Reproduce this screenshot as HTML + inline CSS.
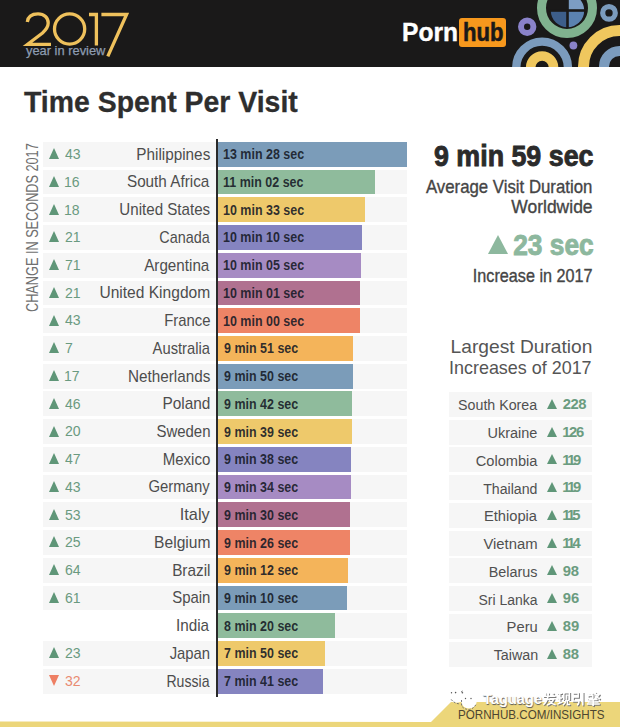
<!DOCTYPE html>
<html><head><meta charset="utf-8"><style>
*{margin:0;padding:0;box-sizing:border-box}
html,body{width:620px;height:727px;overflow:hidden;background:#fff}
body{position:relative;font-family:"Liberation Sans",sans-serif;color:#333}
.a{position:absolute;white-space:nowrap;line-height:1}
.rb{position:absolute;background:#f6f6f6}
.bar{position:absolute}
.tri{position:absolute;width:0;height:0;border-left:5.5px solid transparent;border-right:5.5px solid transparent;border-bottom:11px solid #5f9678}
.trd{position:absolute;width:0;height:0;border-left:5.5px solid transparent;border-right:5.5px solid transparent;border-top:11px solid #ee7f63}
</style></head><body>

<div class="a" style="left:0;top:0;width:620px;height:66.7px;background:#1a1919"></div>
<svg class="a" style="left:0;top:0" width="620" height="67" viewBox="0 0 620 67">
<g fill="none" stroke="#efc15c" stroke-width="3.3" stroke-linecap="butt">
<path d="M27.3 22 C28 16 32.5 13.9 38 13.9 C44.3 13.9 48.2 17.8 48.2 23 C48.2 27.2 46 29.8 42.5 33 L27.6 44.3 L51 44.3"/>
<circle cx="69.6" cy="29" r="15.1"/>
<path d="M89 14.5 L96.4 14.5 L96.4 45.5"/>
<path d="M101.4 14.5 L126.6 14.5 L107.8 56.4"/>
</g>
</svg>
<div class="a" style="left:25.80px;top:43.84px;font-size:13.30px;font-weight:400;color:#8d9cb0;transform:scaleX(0.9677);transform-origin:0 0;-webkit-text-stroke:0.25px #8d9cb0">year in review</div>
<div class="a" style="left:401.83px;top:19.71px;font-size:25.50px;font-weight:700;color:#fff;transform:scaleX(0.9636);transform-origin:0 0;-webkit-text-stroke:0.4px #fff">Porn</div>
<div class="a" style="left:459px;top:17.7px;width:47.3px;height:29.1px;background:#f7981d;border-radius:3px"></div>
<div class="a" style="left:462.68px;top:19.71px;font-size:25.50px;font-weight:700;color:#1a1919;transform:scaleX(0.8651);transform-origin:0 0;-webkit-text-stroke:0.6px #1a1919">hub</div>
<svg class="a" style="left:0;top:0" width="620" height="67" viewBox="0 0 620 67">
<circle cx="567" cy="8" r="25.5" fill="none" stroke="#80b28f" stroke-width="9"/>
<path d="M567.5 10.5 L550.8 10.5 A16.7 16.7 0 0 0 567.5 27.2 Z" fill="#3d5e8a"/>
<path d="M567.5 10.5 L584.2 10.5 A16.7 16.7 0 0 1 567.5 27.2 Z" fill="#5b82b0"/>
<path d="M567.5 10.5 L567.5 -6.2 A16.7 16.7 0 0 1 584.2 10.5 Z" fill="#7c9dc4"/>
<rect x="566.2" y="-8" width="2.6" height="36" fill="#1a1919"/>
<rect x="549" y="9.2" width="37" height="2.6" fill="#1a1919"/>
<circle cx="609" cy="12.9" r="6.3" fill="none" stroke="#7b9bbd" stroke-width="5.2"/>
<circle cx="527.2" cy="26.8" r="6.2" fill="none" stroke="#8a82c9" stroke-width="6"/>
<circle cx="573.4" cy="45.5" r="3.9" fill="#8a82c9"/>
<circle cx="542.1" cy="67.4" r="25.8" fill="none" stroke="#7b9bbd" stroke-width="8.4"/>
<circle cx="542.1" cy="67.4" r="11.4" fill="none" stroke="#efc75e" stroke-width="9.6"/>
<circle cx="619.5" cy="66.5" r="36" fill="none" stroke="#efc75e" stroke-width="11"/>
<circle cx="619.5" cy="66.5" r="15.5" fill="none" stroke="#7b9bbd" stroke-width="10"/>
</svg>
<div class="a" style="left:23.72px;top:87.78px;font-size:29.20px;font-weight:700;color:#2e2e2e;transform:scaleX(0.9736);transform-origin:0 0;-webkit-text-stroke:0.3px #2e2e2e">Time Spent Per Visit</div>
<div class="a" style="left:0;top:0;width:620px;height:727px;pointer-events:none">
<div class="a" style="left:37.6px;top:311.3px;transform-origin:0 0;transform:rotate(-90deg)"><div class="a" style="left:-0.64px;top:-13.21px;font-size:15.6px;color:#707070;transform-origin:0 0;transform:scaleX(0.8148)">CHANGE IN SECONDS 2017</div></div>
</div>
<div class="rb" style="left:43.3px;top:141.80px;width:363.50px;height:24.8px"></div>
<div class="bar" style="left:218px;top:141.80px;width:188.80px;height:24.8px;background:#7b9cb9"></div>
<div class="a" style="left:223.45px;top:147.16px;font-size:14.10px;font-weight:700;color:rgba(22,26,38,0.9);transform:scaleX(0.8850);transform-origin:0 0;">13 min 28 sec</div>
<div class="a" style="right:409.94px;top:145.59px;font-size:16.20px;font-weight:400;color:#4d4d4d;transform:scaleX(0.9456);transform-origin:100% 0;">Philippines</div>
<div class="tri" style="left:48.9px;top:148.10px"></div>
<div class="a" style="left:65.02px;top:146.02px;font-size:15.10px;font-weight:400;color:#6a9a80;transform:scaleX(0.9300);transform-origin:0 0;">43</div>
<div class="rb" style="left:43.3px;top:169.54px;width:363.50px;height:24.8px"></div>
<div class="bar" style="left:218px;top:169.54px;width:156.70px;height:24.8px;background:#8fbb9c"></div>
<div class="a" style="left:223.45px;top:174.90px;font-size:14.10px;font-weight:700;color:rgba(22,26,38,0.9);transform:scaleX(0.8850);transform-origin:0 0;">11 min 02 sec</div>
<div class="a" style="right:410.46px;top:173.33px;font-size:16.20px;font-weight:400;color:#4d4d4d;transform:scaleX(0.9434);transform-origin:100% 0;">South Africa</div>
<div class="tri" style="left:48.9px;top:175.84px"></div>
<div class="a" style="left:64.32px;top:173.76px;font-size:15.10px;font-weight:400;color:#6a9a80;transform:scaleX(0.9300);transform-origin:0 0;">16</div>
<div class="rb" style="left:43.3px;top:197.28px;width:363.50px;height:24.8px"></div>
<div class="bar" style="left:218px;top:197.28px;width:146.90px;height:24.8px;background:#eec96b"></div>
<div class="a" style="left:223.45px;top:202.64px;font-size:14.10px;font-weight:700;color:rgba(22,26,38,0.9);transform:scaleX(0.8850);transform-origin:0 0;">10 min 33 sec</div>
<div class="a" style="right:409.95px;top:201.07px;font-size:16.20px;font-weight:400;color:#4d4d4d;transform:scaleX(0.9348);transform-origin:100% 0;">United States</div>
<div class="tri" style="left:48.9px;top:203.58px"></div>
<div class="a" style="left:64.32px;top:201.50px;font-size:15.10px;font-weight:400;color:#6a9a80;transform:scaleX(0.9300);transform-origin:0 0;">18</div>
<div class="rb" style="left:43.3px;top:225.02px;width:363.50px;height:24.8px"></div>
<div class="bar" style="left:218px;top:225.02px;width:143.70px;height:24.8px;background:#8584c0"></div>
<div class="a" style="left:223.45px;top:230.38px;font-size:14.10px;font-weight:700;color:rgba(22,26,38,0.9);transform:scaleX(0.8850);transform-origin:0 0;">10 min 10 sec</div>
<div class="a" style="right:410.46px;top:228.81px;font-size:16.20px;font-weight:400;color:#4d4d4d;transform:scaleX(0.8893);transform-origin:100% 0;">Canada</div>
<div class="tri" style="left:48.9px;top:231.32px"></div>
<div class="a" style="left:64.60px;top:229.24px;font-size:15.10px;font-weight:400;color:#6a9a80;transform:scaleX(0.9300);transform-origin:0 0;">21</div>
<div class="rb" style="left:43.3px;top:252.76px;width:363.50px;height:24.8px"></div>
<div class="bar" style="left:218px;top:252.76px;width:143.10px;height:24.8px;background:#a68bc3"></div>
<div class="a" style="left:223.45px;top:258.12px;font-size:14.10px;font-weight:700;color:rgba(22,26,38,0.9);transform:scaleX(0.8850);transform-origin:0 0;">10 min 05 sec</div>
<div class="a" style="right:410.46px;top:256.55px;font-size:16.20px;font-weight:400;color:#4d4d4d;transform:scaleX(0.9393);transform-origin:100% 0;">Argentina</div>
<div class="tri" style="left:48.9px;top:259.06px"></div>
<div class="a" style="left:64.60px;top:256.98px;font-size:15.10px;font-weight:400;color:#6a9a80;transform:scaleX(0.9300);transform-origin:0 0;">71</div>
<div class="rb" style="left:43.3px;top:280.50px;width:363.50px;height:24.8px"></div>
<div class="bar" style="left:218px;top:280.50px;width:142.30px;height:24.8px;background:#b07190"></div>
<div class="a" style="left:223.45px;top:285.86px;font-size:14.10px;font-weight:700;color:rgba(22,26,38,0.9);transform:scaleX(0.8850);transform-origin:0 0;">10 min 01 sec</div>
<div class="a" style="right:409.42px;top:284.29px;font-size:16.20px;font-weight:400;color:#4d4d4d;transform:scaleX(0.9619);transform-origin:100% 0;">United Kingdom</div>
<div class="tri" style="left:48.9px;top:286.80px"></div>
<div class="a" style="left:64.60px;top:284.72px;font-size:15.10px;font-weight:400;color:#6a9a80;transform:scaleX(0.9300);transform-origin:0 0;">21</div>
<div class="rb" style="left:43.3px;top:308.24px;width:363.50px;height:24.8px"></div>
<div class="bar" style="left:218px;top:308.24px;width:142.10px;height:24.8px;background:#ee8466"></div>
<div class="a" style="left:223.45px;top:313.60px;font-size:14.10px;font-weight:700;color:rgba(22,26,38,0.9);transform:scaleX(0.8850);transform-origin:0 0;">10 min 00 sec</div>
<div class="a" style="right:409.86px;top:312.03px;font-size:16.20px;font-weight:400;color:#4d4d4d;transform:scaleX(0.9168);transform-origin:100% 0;">France</div>
<div class="tri" style="left:48.9px;top:314.54px"></div>
<div class="a" style="left:65.02px;top:312.46px;font-size:15.10px;font-weight:400;color:#6a9a80;transform:scaleX(0.9300);transform-origin:0 0;">43</div>
<div class="rb" style="left:43.3px;top:335.98px;width:363.50px;height:24.8px"></div>
<div class="bar" style="left:218px;top:335.98px;width:134.80px;height:24.8px;background:#f4b45a"></div>
<div class="a" style="left:223.83px;top:341.34px;font-size:14.10px;font-weight:700;color:rgba(22,26,38,0.9);transform:scaleX(0.8850);transform-origin:0 0;">9 min 51 sec</div>
<div class="a" style="right:410.46px;top:339.77px;font-size:16.20px;font-weight:400;color:#4d4d4d;transform:scaleX(0.9114);transform-origin:100% 0;">Australia</div>
<div class="tri" style="left:48.9px;top:342.28px"></div>
<div class="a" style="left:64.60px;top:340.20px;font-size:15.10px;font-weight:400;color:#6a9a80;transform:scaleX(0.9300);transform-origin:0 0;">7</div>
<div class="rb" style="left:43.3px;top:363.72px;width:363.50px;height:24.8px"></div>
<div class="bar" style="left:218px;top:363.72px;width:134.80px;height:24.8px;background:#7b9cb9"></div>
<div class="a" style="left:223.83px;top:369.08px;font-size:14.10px;font-weight:700;color:rgba(22,26,38,0.9);transform:scaleX(0.8850);transform-origin:0 0;">9 min 50 sec</div>
<div class="a" style="right:409.94px;top:367.51px;font-size:16.20px;font-weight:400;color:#4d4d4d;transform:scaleX(0.9431);transform-origin:100% 0;">Netherlands</div>
<div class="tri" style="left:48.9px;top:370.02px"></div>
<div class="a" style="left:64.32px;top:367.94px;font-size:15.10px;font-weight:400;color:#6a9a80;transform:scaleX(0.9300);transform-origin:0 0;">17</div>
<div class="rb" style="left:43.3px;top:391.46px;width:363.50px;height:24.8px"></div>
<div class="bar" style="left:218px;top:391.46px;width:134.00px;height:24.8px;background:#8fbb9c"></div>
<div class="a" style="left:223.83px;top:396.82px;font-size:14.10px;font-weight:700;color:rgba(22,26,38,0.9);transform:scaleX(0.8850);transform-origin:0 0;">9 min 42 sec</div>
<div class="a" style="right:409.53px;top:395.25px;font-size:16.20px;font-weight:400;color:#4d4d4d;transform:scaleX(0.9515);transform-origin:100% 0;">Poland</div>
<div class="tri" style="left:48.9px;top:397.76px"></div>
<div class="a" style="left:65.02px;top:395.68px;font-size:15.10px;font-weight:400;color:#6a9a80;transform:scaleX(0.9300);transform-origin:0 0;">46</div>
<div class="rb" style="left:43.3px;top:419.20px;width:363.50px;height:24.8px"></div>
<div class="bar" style="left:218px;top:419.20px;width:133.80px;height:24.8px;background:#eec96b"></div>
<div class="a" style="left:223.83px;top:424.56px;font-size:14.10px;font-weight:700;color:rgba(22,26,38,0.9);transform:scaleX(0.8850);transform-origin:0 0;">9 min 39 sec</div>
<div class="a" style="right:409.56px;top:422.99px;font-size:16.20px;font-weight:400;color:#4d4d4d;transform:scaleX(0.9248);transform-origin:100% 0;">Sweden</div>
<div class="tri" style="left:48.9px;top:425.50px"></div>
<div class="a" style="left:64.60px;top:423.42px;font-size:15.10px;font-weight:400;color:#6a9a80;transform:scaleX(0.9300);transform-origin:0 0;">20</div>
<div class="rb" style="left:43.3px;top:446.94px;width:363.50px;height:24.8px"></div>
<div class="bar" style="left:218px;top:446.94px;width:133.40px;height:24.8px;background:#8584c0"></div>
<div class="a" style="left:223.83px;top:452.30px;font-size:14.10px;font-weight:700;color:rgba(22,26,38,0.9);transform:scaleX(0.8850);transform-origin:0 0;">9 min 38 sec</div>
<div class="a" style="right:409.86px;top:450.73px;font-size:16.20px;font-weight:400;color:#4d4d4d;transform:scaleX(0.9286);transform-origin:100% 0;">Mexico</div>
<div class="tri" style="left:48.9px;top:453.24px"></div>
<div class="a" style="left:65.02px;top:451.16px;font-size:15.10px;font-weight:400;color:#6a9a80;transform:scaleX(0.9300);transform-origin:0 0;">47</div>
<div class="rb" style="left:43.3px;top:474.68px;width:363.50px;height:24.8px"></div>
<div class="bar" style="left:218px;top:474.68px;width:133.10px;height:24.8px;background:#a68bc3"></div>
<div class="a" style="left:223.83px;top:480.04px;font-size:14.10px;font-weight:700;color:rgba(22,26,38,0.9);transform:scaleX(0.8850);transform-origin:0 0;">9 min 34 sec</div>
<div class="a" style="right:410.40px;top:478.47px;font-size:16.20px;font-weight:400;color:#4d4d4d;transform:scaleX(0.9178);transform-origin:100% 0;">Germany</div>
<div class="tri" style="left:48.9px;top:480.98px"></div>
<div class="a" style="left:65.02px;top:478.90px;font-size:15.10px;font-weight:400;color:#6a9a80;transform:scaleX(0.9300);transform-origin:0 0;">43</div>
<div class="rb" style="left:43.3px;top:502.42px;width:363.50px;height:24.8px"></div>
<div class="bar" style="left:218px;top:502.42px;width:132.10px;height:24.8px;background:#b07190"></div>
<div class="a" style="left:223.83px;top:507.78px;font-size:14.10px;font-weight:700;color:rgba(22,26,38,0.9);transform:scaleX(0.8850);transform-origin:0 0;">9 min 30 sec</div>
<div class="a" style="right:410.40px;top:506.21px;font-size:16.20px;font-weight:400;color:#4d4d4d;transform:scaleX(1.0088);transform-origin:100% 0;">Italy</div>
<div class="tri" style="left:48.9px;top:508.72px"></div>
<div class="a" style="left:64.74px;top:506.64px;font-size:15.10px;font-weight:400;color:#6a9a80;transform:scaleX(0.9300);transform-origin:0 0;">53</div>
<div class="rb" style="left:43.3px;top:530.16px;width:363.50px;height:24.8px"></div>
<div class="bar" style="left:218px;top:530.16px;width:131.70px;height:24.8px;background:#ee8466"></div>
<div class="a" style="left:223.83px;top:535.52px;font-size:14.10px;font-weight:700;color:rgba(22,26,38,0.9);transform:scaleX(0.8850);transform-origin:0 0;">9 min 26 sec</div>
<div class="a" style="right:409.42px;top:533.95px;font-size:16.20px;font-weight:400;color:#4d4d4d;transform:scaleX(0.9642);transform-origin:100% 0;">Belgium</div>
<div class="tri" style="left:48.9px;top:536.46px"></div>
<div class="a" style="left:64.60px;top:534.38px;font-size:15.10px;font-weight:400;color:#6a9a80;transform:scaleX(0.9300);transform-origin:0 0;">25</div>
<div class="rb" style="left:43.3px;top:557.90px;width:363.50px;height:24.8px"></div>
<div class="bar" style="left:218px;top:557.90px;width:129.80px;height:24.8px;background:#f4b45a"></div>
<div class="a" style="left:223.83px;top:563.26px;font-size:14.10px;font-weight:700;color:rgba(22,26,38,0.9);transform:scaleX(0.8850);transform-origin:0 0;">9 min 12 sec</div>
<div class="a" style="right:409.45px;top:561.69px;font-size:16.20px;font-weight:400;color:#4d4d4d;transform:scaleX(0.9475);transform-origin:100% 0;">Brazil</div>
<div class="tri" style="left:48.9px;top:564.20px"></div>
<div class="a" style="left:64.60px;top:562.12px;font-size:15.10px;font-weight:400;color:#6a9a80;transform:scaleX(0.9300);transform-origin:0 0;">64</div>
<div class="rb" style="left:43.3px;top:585.64px;width:363.50px;height:24.8px"></div>
<div class="bar" style="left:218px;top:585.64px;width:129.20px;height:24.8px;background:#7b9cb9"></div>
<div class="a" style="left:223.83px;top:591.00px;font-size:14.10px;font-weight:700;color:rgba(22,26,38,0.9);transform:scaleX(0.8850);transform-origin:0 0;">9 min 10 sec</div>
<div class="a" style="right:409.56px;top:589.43px;font-size:16.20px;font-weight:400;color:#4d4d4d;transform:scaleX(0.9229);transform-origin:100% 0;">Spain</div>
<div class="tri" style="left:48.9px;top:591.94px"></div>
<div class="a" style="left:64.60px;top:589.86px;font-size:15.10px;font-weight:400;color:#6a9a80;transform:scaleX(0.9300);transform-origin:0 0;">61</div>
<div class="rb" style="left:218px;top:613.38px;width:188.80px;height:24.8px"></div>
<div class="bar" style="left:218px;top:613.38px;width:116.80px;height:24.8px;background:#8fbb9c"></div>
<div class="a" style="left:223.83px;top:618.74px;font-size:14.10px;font-weight:700;color:rgba(22,26,38,0.9);transform:scaleX(0.8850);transform-origin:0 0;">8 min 20 sec</div>
<div class="a" style="right:410.46px;top:617.17px;font-size:16.20px;font-weight:400;color:#4d4d4d;transform:scaleX(0.9427);transform-origin:100% 0;">India</div>
<div class="rb" style="left:43.3px;top:641.12px;width:363.50px;height:24.8px"></div>
<div class="bar" style="left:218px;top:641.12px;width:106.60px;height:24.8px;background:#eec96b"></div>
<div class="a" style="left:223.70px;top:646.48px;font-size:14.10px;font-weight:700;color:rgba(22,26,38,0.9);transform:scaleX(0.8850);transform-origin:0 0;">7 min 50 sec</div>
<div class="a" style="right:409.57px;top:644.91px;font-size:16.20px;font-weight:400;color:#4d4d4d;transform:scaleX(0.9172);transform-origin:100% 0;">Japan</div>
<div class="tri" style="left:48.9px;top:647.42px"></div>
<div class="a" style="left:64.60px;top:645.34px;font-size:15.10px;font-weight:400;color:#6a9a80;transform:scaleX(0.9300);transform-origin:0 0;">23</div>
<div class="rb" style="left:43.3px;top:668.86px;width:363.50px;height:24.8px"></div>
<div class="bar" style="left:218px;top:668.86px;width:105.30px;height:24.8px;background:#8584c0"></div>
<div class="a" style="left:223.70px;top:674.22px;font-size:14.10px;font-weight:700;color:rgba(22,26,38,0.9);transform:scaleX(0.8850);transform-origin:0 0;">7 min 41 sec</div>
<div class="a" style="right:410.45px;top:672.65px;font-size:16.20px;font-weight:400;color:#4d4d4d;transform:scaleX(0.8699);transform-origin:100% 0;">Russia</div>
<div class="trd" style="left:48.9px;top:675.16px"></div>
<div class="a" style="left:64.88px;top:673.08px;font-size:15.10px;font-weight:400;color:#e98a70;transform:scaleX(0.9300);transform-origin:0 0;">32</div>
<div class="a" style="left:216.1px;top:139.2px;width:2px;height:557.6px;background:#2a2a2a"></div>
<div class="a" style="right:26.70px;top:140.73px;font-size:29.50px;font-weight:700;color:#2b2b2b;transform:scaleX(0.9090);transform-origin:100% 0;-webkit-text-stroke:0.9px #2b2b2b">9 min 59 sec</div>
<div class="a" style="right:27.26px;top:178.19px;font-size:18.20px;font-weight:400;color:#454545;transform:scaleX(0.9225);transform-origin:100% 0;-webkit-text-stroke:0.35px #454545">Average Visit Duration</div>
<div class="a" style="right:27.07px;top:197.59px;font-size:18.20px;font-weight:400;color:#454545;transform:scaleX(0.9611);transform-origin:100% 0;-webkit-text-stroke:0.35px #454545">Worldwide</div>
<div class="a" style="left:488.1px;top:234.8px;width:0;height:0;border-left:10.45px solid transparent;border-right:10.45px solid transparent;border-bottom:19.3px solid #8db89e"></div>
<div class="a" style="right:26.71px;top:230.65px;font-size:29.00px;font-weight:700;color:#8db89e;transform:scaleX(0.9073);transform-origin:100% 0;-webkit-text-stroke:0.9px #8db89e">23 sec</div>
<div class="a" style="right:27.35px;top:267.49px;font-size:18.20px;font-weight:400;color:#454545;transform:scaleX(0.8895);transform-origin:100% 0;-webkit-text-stroke:0.35px #454545">Increase in 2017</div>
<div class="a" style="right:27.92px;top:337.99px;font-size:18.20px;font-weight:400;color:#555;transform:scaleX(1.0555);transform-origin:100% 0;">Largest Duration</div>
<div class="a" style="right:28.67px;top:359.19px;font-size:18.20px;font-weight:400;color:#555;transform:scaleX(0.9859);transform-origin:100% 0;">Increases of 2017</div>
<div class="rb" style="left:448.8px;top:391.96px;width:143.7px;height:25.0px"></div>
<div class="a" style="right:82.95px;top:397.44px;font-size:15.50px;font-weight:400;color:#505050;transform:scaleX(0.9181);transform-origin:100% 0;">South Korea</div>
<div class="tri" style="left:547.3px;top:398.86px;border-left-width:5.6px;border-right-width:5.6px;border-bottom-width:10px"></div>
<div class="a" style="left:562.76px;top:397.23px;font-size:14.80px;font-weight:700;color:#6b9c80;transform:scaleX(1.0000);transform-origin:0 0;letter-spacing:-0.531px;">228</div>
<div class="rb" style="left:448.8px;top:419.70px;width:143.7px;height:25.0px"></div>
<div class="a" style="right:82.38px;top:425.18px;font-size:15.50px;font-weight:400;color:#505050;transform:scaleX(0.9350);transform-origin:100% 0;">Ukraine</div>
<div class="tri" style="left:547.3px;top:426.60px;border-left-width:5.6px;border-right-width:5.6px;border-bottom-width:10px"></div>
<div class="a" style="left:562.31px;top:424.97px;font-size:14.80px;font-weight:700;color:#6b9c80;transform:scaleX(1.0000);transform-origin:0 0;letter-spacing:-1.435px;">126</div>
<div class="rb" style="left:448.8px;top:447.44px;width:143.7px;height:25.0px"></div>
<div class="a" style="right:82.96px;top:452.92px;font-size:15.50px;font-weight:400;color:#505050;transform:scaleX(0.9420);transform-origin:100% 0;">Colombia</div>
<div class="tri" style="left:547.3px;top:454.34px;border-left-width:5.6px;border-right-width:5.6px;border-bottom-width:10px"></div>
<div class="a" style="left:562.31px;top:452.71px;font-size:14.80px;font-weight:700;color:#6b9c80;transform:scaleX(1.0000);transform-origin:0 0;letter-spacing:-2.477px;">119</div>
<div class="rb" style="left:448.8px;top:475.18px;width:143.7px;height:25.0px"></div>
<div class="a" style="right:82.11px;top:480.66px;font-size:15.50px;font-weight:400;color:#505050;transform:scaleX(0.9129);transform-origin:100% 0;">Thailand</div>
<div class="tri" style="left:547.3px;top:482.08px;border-left-width:5.6px;border-right-width:5.6px;border-bottom-width:10px"></div>
<div class="a" style="left:562.31px;top:480.45px;font-size:14.80px;font-weight:700;color:#6b9c80;transform:scaleX(1.0000);transform-origin:0 0;letter-spacing:-2.477px;">119</div>
<div class="rb" style="left:448.8px;top:502.92px;width:143.7px;height:25.0px"></div>
<div class="a" style="right:82.96px;top:508.40px;font-size:15.50px;font-weight:400;color:#505050;transform:scaleX(0.9483);transform-origin:100% 0;">Ethiopia</div>
<div class="tri" style="left:547.3px;top:509.82px;border-left-width:5.6px;border-right-width:5.6px;border-bottom-width:10px"></div>
<div class="a" style="left:562.31px;top:508.19px;font-size:14.80px;font-weight:700;color:#6b9c80;transform:scaleX(1.0000);transform-origin:0 0;letter-spacing:-2.801px;">115</div>
<div class="rb" style="left:448.8px;top:530.66px;width:143.7px;height:25.0px"></div>
<div class="a" style="right:81.97px;top:536.14px;font-size:15.50px;font-weight:400;color:#505050;transform:scaleX(0.9568);transform-origin:100% 0;">Vietnam</div>
<div class="tri" style="left:547.3px;top:537.56px;border-left-width:5.6px;border-right-width:5.6px;border-bottom-width:10px"></div>
<div class="a" style="left:562.31px;top:535.93px;font-size:14.80px;font-weight:700;color:#6b9c80;transform:scaleX(1.0000);transform-origin:0 0;letter-spacing:-2.773px;">114</div>
<div class="rb" style="left:448.8px;top:558.40px;width:143.7px;height:25.0px"></div>
<div class="a" style="right:82.47px;top:563.88px;font-size:15.50px;font-weight:400;color:#505050;transform:scaleX(0.9282);transform-origin:100% 0;">Belarus</div>
<div class="tri" style="left:547.3px;top:565.30px;border-left-width:5.6px;border-right-width:5.6px;border-bottom-width:10px"></div>
<div class="a" style="left:562.76px;top:563.67px;font-size:14.80px;font-weight:700;color:#6b9c80;transform:scaleX(1.0000);transform-origin:0 0;letter-spacing:-0.131px;">98</div>
<div class="rb" style="left:448.8px;top:586.14px;width:143.7px;height:25.0px"></div>
<div class="a" style="right:82.95px;top:591.62px;font-size:15.50px;font-weight:400;color:#505050;transform:scaleX(0.9011);transform-origin:100% 0;">Sri Lanka</div>
<div class="tri" style="left:547.3px;top:593.04px;border-left-width:5.6px;border-right-width:5.6px;border-bottom-width:10px"></div>
<div class="a" style="left:562.76px;top:591.41px;font-size:14.80px;font-weight:700;color:#6b9c80;transform:scaleX(1.0000);transform-origin:0 0;letter-spacing:0.017px;">96</div>
<div class="rb" style="left:448.8px;top:613.88px;width:143.7px;height:25.0px"></div>
<div class="a" style="right:81.92px;top:619.36px;font-size:15.50px;font-weight:400;color:#505050;transform:scaleX(0.9516);transform-origin:100% 0;">Peru</div>
<div class="tri" style="left:547.3px;top:620.78px;border-left-width:5.6px;border-right-width:5.6px;border-bottom-width:10px"></div>
<div class="a" style="left:562.76px;top:619.15px;font-size:14.80px;font-weight:700;color:#6b9c80;transform:scaleX(1.0000);transform-origin:0 0;letter-spacing:0.017px;">89</div>
<div class="rb" style="left:448.8px;top:641.62px;width:143.7px;height:25.0px"></div>
<div class="a" style="right:82.10px;top:647.10px;font-size:15.50px;font-weight:400;color:#505050;transform:scaleX(0.9242);transform-origin:100% 0;">Taiwan</div>
<div class="tri" style="left:547.3px;top:648.52px;border-left-width:5.6px;border-right-width:5.6px;border-bottom-width:10px"></div>
<div class="a" style="left:562.76px;top:646.89px;font-size:14.80px;font-weight:700;color:#6b9c80;transform:scaleX(1.0000);transform-origin:0 0;letter-spacing:-0.131px;">88</div>
<svg class="a" style="left:0;top:0" width="620" height="727" viewBox="0 0 620 727">
<path d="M431 722 L451 702 L620 702 L620 727 L0 727 L0 721.5 Z" fill="#ecd67a"/>
</svg>
<div class="a" style="left:458.07px;top:709.43px;font-size:12.60px;font-weight:400;color:#4d4530;transform:scaleX(0.9229);transform-origin:0 0;">PORNHUB.COM/INSIGHTS</div>
<div class="a" style="left:483.35px;top:692.43px;font-size:14.50px;font-weight:700;color:#fff;transform:scaleX(1.0083);transform-origin:0 0;text-shadow:0.6px 1px 0.8px #5a5a5a">Taguage</div>
<svg class="a" style="left:0;top:0" width="620" height="727" viewBox="0 0 620 727"><g fill="none" stroke="#7a7a7a" stroke-width="1.5" transform="translate(1,1)">
<g transform="translate(542.8,691.8)">
<path d="M2.2 1 L3.2 3.2 M0.3 4.4 L12.6 4.4 M9.3 0.6 L11 2.4 M5.6 0.8 C5.4 6 4 10 0.6 13 M4.8 7.4 L10.8 7.4 C9.5 10.5 7.5 12.2 4.2 13.3 M6.2 8.6 C7.8 11 10 12.6 12.8 13.3"/>
</g>
<g transform="translate(557.2,691.8)">
<path d="M0.3 1.5 L5 1.5 M0.5 6.3 L4.8 6.3 M2.6 1.5 L2.6 11.3 M0.2 12.3 L5.2 10.3 M6.6 1 L12.2 1 L12.2 8.2 M6.6 1 L6.6 8.2 M9.4 3 L9.4 7 M8.8 8.3 C8.4 10.8 7.5 12.2 5.8 13.4 M10.2 8.3 L10.2 12.6 L13 12.6"/>
</g>
<g transform="translate(572,691.8)">
<path d="M0.8 1.2 L6.2 1.2 L6.2 5.2 L1.2 5.2 L1 9.2 L7 9.2 C7 11.5 6.6 12.8 5 13.2 M10.8 0.3 L10.8 13.6"/>
</g>
<g transform="translate(586.6,691.8)">
<path d="M0.3 2 L7 2 M2.2 0.4 L2.2 3 M5 0.4 L5 3 M1.3 3.6 L6.2 3.6 L6.2 6.6 L1.3 6.6 Z M9 0.3 L8 3 M8.2 2.6 L13.2 2.6 M12.2 2.8 C11.2 5.2 9.8 6.4 7.8 7.2 M9.2 3.6 C10.2 5.4 11.6 6.6 13.4 7.2 M2 8.2 L11 7.8 M1.2 10.1 L12 10.1 M0.2 12.1 L13.2 12.1 M6.6 8 L6.6 13.4 L5.4 13"/>
</g>
</g><g fill="none" stroke="#ffffff" stroke-width="1.5">
<g transform="translate(542.8,691.8)">
<path d="M2.2 1 L3.2 3.2 M0.3 4.4 L12.6 4.4 M9.3 0.6 L11 2.4 M5.6 0.8 C5.4 6 4 10 0.6 13 M4.8 7.4 L10.8 7.4 C9.5 10.5 7.5 12.2 4.2 13.3 M6.2 8.6 C7.8 11 10 12.6 12.8 13.3"/>
</g>
<g transform="translate(557.2,691.8)">
<path d="M0.3 1.5 L5 1.5 M0.5 6.3 L4.8 6.3 M2.6 1.5 L2.6 11.3 M0.2 12.3 L5.2 10.3 M6.6 1 L12.2 1 L12.2 8.2 M6.6 1 L6.6 8.2 M9.4 3 L9.4 7 M8.8 8.3 C8.4 10.8 7.5 12.2 5.8 13.4 M10.2 8.3 L10.2 12.6 L13 12.6"/>
</g>
<g transform="translate(572,691.8)">
<path d="M0.8 1.2 L6.2 1.2 L6.2 5.2 L1.2 5.2 L1 9.2 L7 9.2 C7 11.5 6.6 12.8 5 13.2 M10.8 0.3 L10.8 13.6"/>
</g>
<g transform="translate(586.6,691.8)">
<path d="M0.3 2 L7 2 M2.2 0.4 L2.2 3 M5 0.4 L5 3 M1.3 3.6 L6.2 3.6 L6.2 6.6 L1.3 6.6 Z M9 0.3 L8 3 M8.2 2.6 L13.2 2.6 M12.2 2.8 C11.2 5.2 9.8 6.4 7.8 7.2 M9.2 3.6 C10.2 5.4 11.6 6.6 13.4 7.2 M2 8.2 L11 7.8 M1.2 10.1 L12 10.1 M0.2 12.1 L13.2 12.1 M6.6 8 L6.6 13.4 L5.4 13"/>
</g>
</g><g fill="#fff" stroke="none"><ellipse cx="456.6" cy="695.8" rx="8.8" ry="7"/><ellipse cx="469" cy="702" rx="7.6" ry="6.4"/></g><g fill="none" stroke="#6a6a6a" stroke-width="0.9" stroke-dasharray="2 1.5"><path d="M451.2 699.4 C453 702 456 703.6 459 703.8"/><path d="M461.5 700 L461.6 706 C463.5 708.6 466 709.6 469.5 709.4 C472.5 709 474.5 707 476 704.5"/><path d="M461 692 L463.5 690.5"/></g><g fill="#555"><circle cx="451.5" cy="692.8" r="0.7"/><circle cx="455.6" cy="692.6" r="0.8"/><circle cx="462.4" cy="692.8" r="0.8"/><circle cx="465.5" cy="698.5" r="0.7"/><circle cx="471" cy="698.5" r="0.7"/></g></svg>
</body></html>
